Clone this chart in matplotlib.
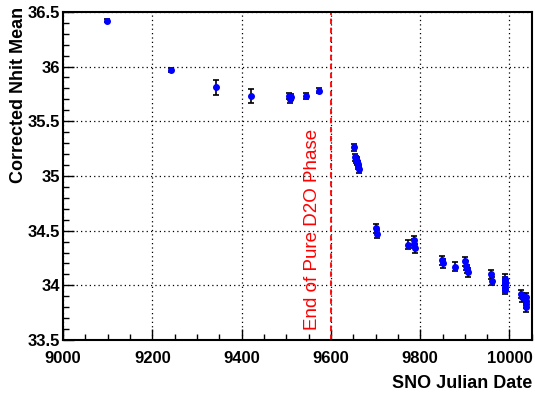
import matplotlib.pyplot as plt
from matplotlib.ticker import MultipleLocator

# SNO Julian date, corrected Nhit mean and its error
julian = [9098, 9242, 9343, 9421, 9507, 9509, 9510, 9544, 9573,
          9652, 9655, 9657, 9658, 9659, 9660, 9661, 9662,
          9702, 9704, 9773, 9786, 9787, 9788,
          9849, 9851, 9878, 9901, 9903, 9905, 9906,
          9959, 9960, 9989, 9990, 9990, 9991, 9990, 9991,
          10025, 10027, 10036, 10037, 10038, 10037]
nhit = [36.42, 35.97, 35.81, 35.73, 35.73, 35.70, 35.72, 35.73, 35.78,
        35.26, 35.17, 35.15, 35.13, 35.14, 35.11, 35.09, 35.06,
        34.52, 34.47, 34.37, 34.41, 34.38, 34.34,
        34.23, 34.20, 34.17, 34.22, 34.18, 34.15, 34.12,
        34.10, 34.04, 34.06, 34.04, 34.02, 34.00, 33.98, 33.96,
        33.92, 33.89, 33.89, 33.86, 33.83, 33.80]
nhit_err = [0.015, 0.02, 0.067, 0.067, 0.03, 0.03, 0.03, 0.03, 0.025,
            0.03, 0.03, 0.03, 0.03, 0.03, 0.03, 0.03, 0.03,
            0.04, 0.04, 0.04, 0.04, 0.04, 0.04,
            0.04, 0.04, 0.04, 0.04, 0.04, 0.04, 0.04,
            0.04, 0.04, 0.04, 0.04, 0.04, 0.04, 0.04, 0.04,
            0.04, 0.04, 0.04, 0.04, 0.04, 0.04]
d2o_end = 9600

plt.rcParams['font.family'] = ['Liberation Sans', 'DejaVu Sans']

fig = plt.figure(figsize=(5.35, 3.94), dpi=100)
ax = fig.add_axes([0.118, 0.137, 0.876, 0.833])

ax.errorbar(julian, nhit, yerr=nhit_err, fmt='o', color='blue', ms=4,
            mec='blue', ecolor='black', elinewidth=1.2, capsize=2, capthick=1.2,
            zorder=3)
ax.axvline(d2o_end, color='red', ls=(0, (3, 2)), lw=1.3, zorder=2)
ax.text(9559, 33.59, 'End of Pure D2O Phase', color='red', rotation=90,
        ha='center', va='bottom', fontsize=13.5)

ax.set_xlim(9000, 10050)
ax.set_ylim(33.5, 36.5)
ax.xaxis.set_major_locator(MultipleLocator(200))
ax.xaxis.set_minor_locator(MultipleLocator(50))
ax.yaxis.set_major_locator(MultipleLocator(0.5))
ax.yaxis.set_minor_locator(MultipleLocator(0.1))
ax.yaxis.set_major_formatter(plt.FuncFormatter(lambda v, p: '%g' % v))
ax.grid(True, which='major', color='black', ls=(0, (1, 2.5)), lw=0.9)
ax.tick_params(which='both', direction='in', top=False, right=False,
               labelsize=12)
ax.tick_params(which='major', length=8, width=1)
ax.tick_params(which='minor', length=4, width=1)
ax.tick_params(axis='x', pad=8)
ax.tick_params(axis='y', pad=2)
for lab in ax.get_xticklabels() + ax.get_yticklabels():
    lab.set_fontweight('bold')
for s in ax.spines.values():
    s.set_linewidth(1.5)

ax.set_xlabel('SNO Julian Date', fontsize=13, fontweight='bold', loc='right')
ax.set_ylabel('Corrected Nhit Mean', fontsize=13, fontweight='bold', loc='top')
ax.xaxis.set_label_coords(1.0, -0.108)
ax.yaxis.set_label_coords(-0.078, 1.015)

plt.savefig('out.png', dpi=100)
